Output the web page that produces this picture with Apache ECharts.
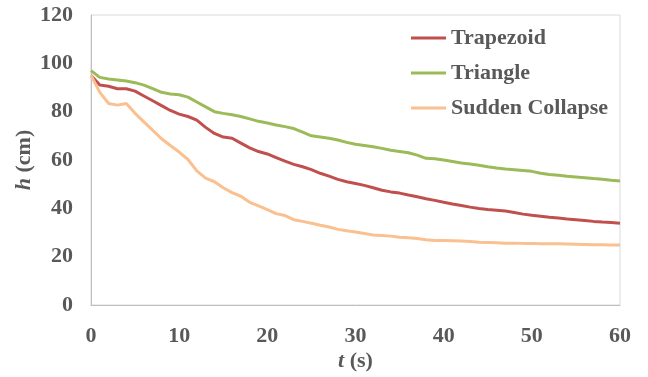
<!DOCTYPE html>
<html>
<head>
<meta charset="utf-8">
<script src="https://cdn.jsdelivr.net/npm/echarts@6/dist/echarts.min.js"></script>
<style>
html,body{margin:0;padding:0;background:#fff;}
#chart{width:648px;height:377px;}
</style>
</head>
<body>
<div id="chart"></div>
<script>
var seriesNames = ['Trapezoid', 'Triangle', 'Sudden Collapse'];
var timeS = [0,1,2,3,4,5,6,7,8,9,10,11,12,13,14,15,16,17,18,19,20,21,22,23,24,25,26,27,28,29,30,31,32,33,34,35,36,37,38,39,40,41,42,43,44,45,46,47,48,49,50,51,52,53,54,55,56,57,58,59,60];
var trapezoid = [95,91,90.5,89.5,89.5,88.5,86.5,84.5,82.5,80.5,79,78,76.5,73.5,71,69.5,69,67,65,63.5,62.5,61,59.5,58.2,57.2,56,54.5,53.3,52,51,50.3,49.5,48.5,47.5,46.8,46.3,45.5,44.8,44,43.3,42.5,41.8,41.2,40.5,39.9,39.5,39.2,38.9,38.3,37.6,37.1,36.7,36.3,36,35.6,35.3,35,34.6,34.3,34.1,33.8];
var triangle = [97,94.2,93.5,93.1,92.7,92,91,89.5,88,87.3,87,86,84,82,80,79.3,78.7,78,77,76,75.3,74.5,73.8,73,71.5,70,69.5,69,68.3,67.3,66.5,66,65.5,64.8,64,63.5,63,62,60.7,60.5,60,59.4,58.8,58.3,57.8,57.2,56.7,56.3,56,55.7,55.3,54.5,54,53.7,53.3,53,52.7,52.3,52,51.6,51.3];
var sudden = [95,88,83.4,82.7,83.4,79.3,75.8,72.3,68.8,66,63.3,60.2,55.5,52.5,51,48.5,46.5,45,42.5,41,39.5,37.8,37,35.3,34.6,33.8,33,32.3,31.3,30.7,30.2,29.6,29,28.8,28.5,28,27.8,27.5,27,26.7,26.7,26.6,26.5,26.3,26,25.9,25.8,25.6,25.6,25.5,25.5,25.3,25.3,25.3,25.2,25.1,25,24.9,24.9,24.8,24.8];
var colors = ['#C0504D', '#9BBB59', '#FAC090'];

function pairs(vals) {
  return timeS.map(function (t, i) { return [t, vals[i]]; });
}

var font = 'Liberation Serif, Times New Roman, serif';
var chart = echarts.init(document.getElementById('chart'), null, {renderer: 'canvas'});
chart.setOption({
  animation: false,
  backgroundColor: '#ffffff',
  color: colors,
  grid: {left: 91, right: 28, top: 15, bottom: 72, show: true, borderColor: '#d9d9d9', borderWidth: 1, containLabel: false},
  legend: {
    orient: 'vertical', left: 411, top: 27, padding: 0, itemGap: 13,
    icon: 'rect', itemWidth: 35, itemHeight: 3,
    textStyle: {fontFamily: font, fontWeight: 'bold', fontSize: 22, color: '#595959'},
    data: seriesNames
  },
  xAxis: {
    type: 'value', min: 0, max: 60, interval: 10,
    name: '{i|t} (s)', nameLocation: 'middle', nameGap: 45, nameMoveOverlap: false,
    nameTextStyle: {fontFamily: font, fontWeight: 'bold', fontSize: 22, color: '#595959',
      rich: {i: {fontFamily: font, fontWeight: 'bold', fontStyle: 'italic', fontSize: 22, color: '#595959'}}},
    axisLine: {show: true, lineStyle: {color: '#bfbfbf', width: 1}},
    axisTick: {show: false},
    splitLine: {show: false},
    axisLabel: {margin: 20, fontFamily: font, fontWeight: 'bold', fontSize: 22, color: '#595959'}
  },
  yAxis: {
    type: 'value', min: 0, max: 120, interval: 20,
    name: '{i|h} (cm)', nameLocation: 'middle', nameGap: 56, nameRotate: 90, nameMoveOverlap: false,
    nameTextStyle: {fontFamily: font, fontWeight: 'bold', fontSize: 22, color: '#595959',
      rich: {i: {fontFamily: font, fontWeight: 'bold', fontStyle: 'italic', fontSize: 22, color: '#595959'}}},
    axisLine: {show: true, lineStyle: {color: '#bfbfbf', width: 1}},
    axisTick: {show: false},
    splitLine: {show: false},
    axisLabel: {margin: 18, fontFamily: font, fontWeight: 'bold', fontSize: 22, color: '#595959'}
  },
  series: [
    {name: seriesNames[0], type: 'line', data: pairs(trapezoid), showSymbol: false, symbol: 'none', lineStyle: {width: 3, color: colors[0]}, itemStyle: {color: colors[0]}},
    {name: seriesNames[1], type: 'line', data: pairs(triangle), showSymbol: false, symbol: 'none', lineStyle: {width: 3, color: colors[1]}, itemStyle: {color: colors[1]}},
    {name: seriesNames[2], type: 'line', data: pairs(sudden), showSymbol: false, symbol: 'none', lineStyle: {width: 3, color: colors[2]}, itemStyle: {color: colors[2]}}
  ]
});
</script>
</body>
</html>
